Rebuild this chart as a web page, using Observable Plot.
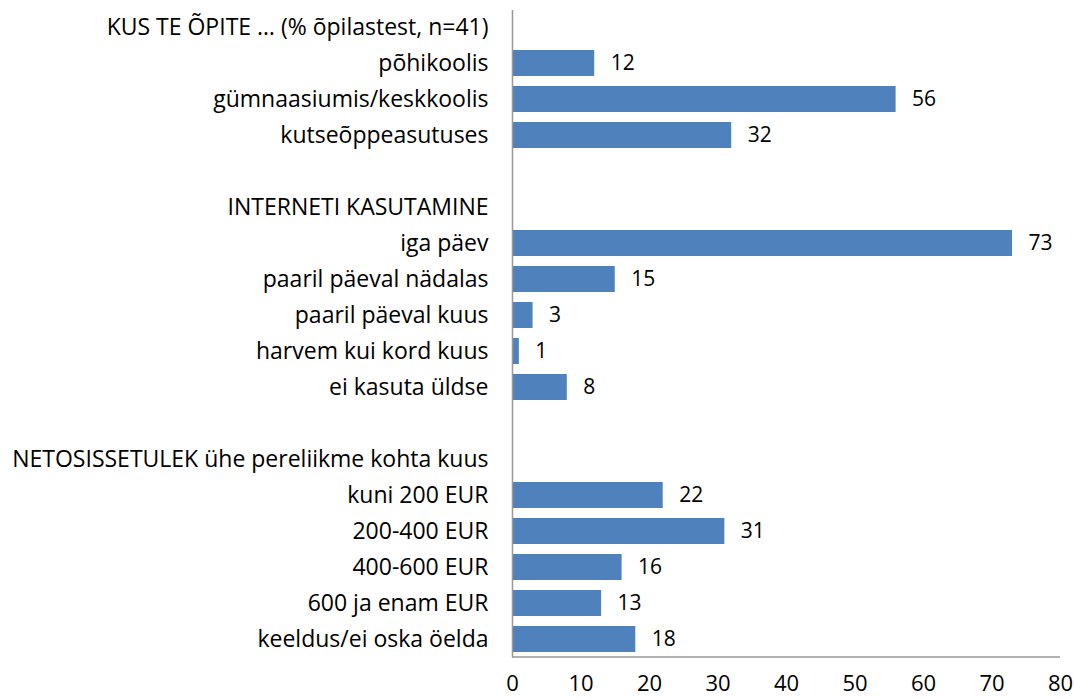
<!DOCTYPE html>
<html>
<head>
<meta charset="utf-8">
<script src="https://cdn.jsdelivr.net/npm/d3@7"></script>
<script src="https://cdn.jsdelivr.net/npm/@observablehq/plot@0.6"></script>
<style>
  body { margin: 0; background: #fff; }
  #chart svg { font-family: "Open Sans", sans-serif; }
</style>
</head>
<body>
<div id="chart"></div>
<script>
const categories = [
  "KUS TE ÕPITE … (% õpilastest, n=41)",
  "põhikoolis",
  "gümnaasiumis/keskkoolis",
  "kutseõppeasutuses",
  " ",
  "INTERNETI KASUTAMINE",
  "iga päev",
  "paaril päeval nädalas",
  "paaril päeval kuus",
  "harvem kui kord kuus",
  "ei kasuta üldse",
  "  ",
  "NETOSISSETULEK ühe pereliikme kohta kuus",
  "kuni 200 EUR",
  "200-400 EUR",
  "400-600 EUR",
  "600 ja enam EUR",
  "keeldus/ei oska öelda"
];
const values = [null, 12, 56, 32, null, null, 73, 15, 3, 1, 8, null, null, 22, 31, 16, 13, 18];
const xTicks = [0, 10, 20, 30, 40, 50, 60, 70, 80];

const data = categories.map((c, i) => ({category: c, value: values[i]}));
const bars = data.filter(d => d.value != null);

const chart = Plot.plot({
  width: 1074,
  height: 699,
  marginLeft: 512,
  marginRight: 14,
  marginTop: 10,
  marginBottom: 42,
  style: {fontSize: "20px", color: "#000", background: "#fff"},
  x: {domain: [0, 80], ticks: xTicks, tickSize: 0, label: null},
  y: {domain: categories, paddingInner: 0.27, paddingOuter: 0.02, tickSize: 0, label: null},
  marks: [
    Plot.barX(bars, {x: "value", y: "category", fill: "#4F81BD"}),
    Plot.text(bars, {x: "value", y: "category", text: d => String(d.value), textAnchor: "start", dx: 16, fontSize: 21, fill: "#000"}),
    Plot.ruleX([0], {stroke: "#999", strokeWidth: 1.5}),
    Plot.axisX({ticks: xTicks, tickSize: 0, tickPadding: 18, fontSize: 22, label: null}),
    Plot.axisY({tickSize: 0, tickPadding: 24, fontSize: 23, label: null})
  ]
});
const svg = d3.select(chart);
const xs = chart.scale("x");
svg.append("line")
  .attr("x1", xs.apply(0)).attr("x2", xs.apply(80))
  .attr("y1", 699 - 42).attr("y2", 699 - 42)
  .attr("stroke", "#999").attr("stroke-width", 1.5);
document.getElementById("chart").append(chart);
</script>
</body>
</html>
